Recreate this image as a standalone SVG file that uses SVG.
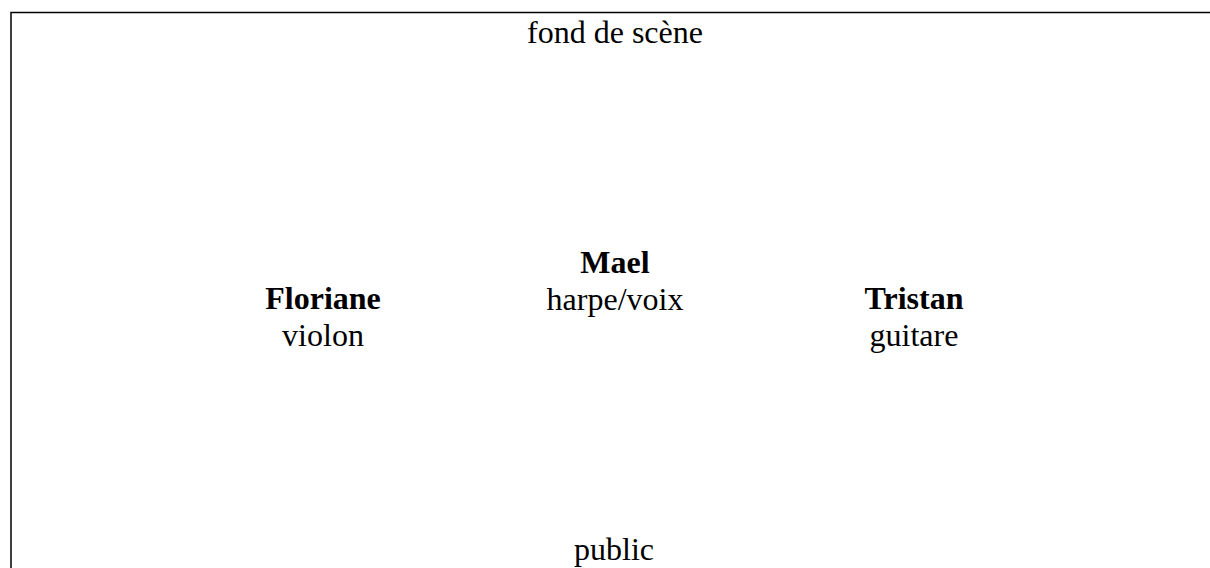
<svg xmlns="http://www.w3.org/2000/svg" width="1210" height="568" viewBox="0 0 1210 568">
<style>
text{font-family:"Liberation Serif","Times New Roman",serif;font-size:32px;fill:#000;text-anchor:middle}
.b{font-weight:bold}
.border{stroke:#000;stroke-width:1.5;fill:none}
</style>
<rect width="1210" height="568" fill="#fff"/>
<g id="stage">
<path class="border" d="M11 600 V12.5 H1215"/>
</g>
<g id="fond"><text x="615" y="43">fond de scène</text></g>
<g id="mael"><text class="b" x="615" y="273">Mael</text><text x="615" y="310">harpe/voix</text></g>
<g id="floriane"><text class="b" x="323" y="309">Floriane</text><text x="323" y="346">violon</text></g>
<g id="tristan"><text class="b" x="914" y="309">Tristan</text><text x="914" y="346">guitare</text></g>
<g id="public"><text x="614" y="560">public</text></g>
<g id="connectors"></g>
</svg>
